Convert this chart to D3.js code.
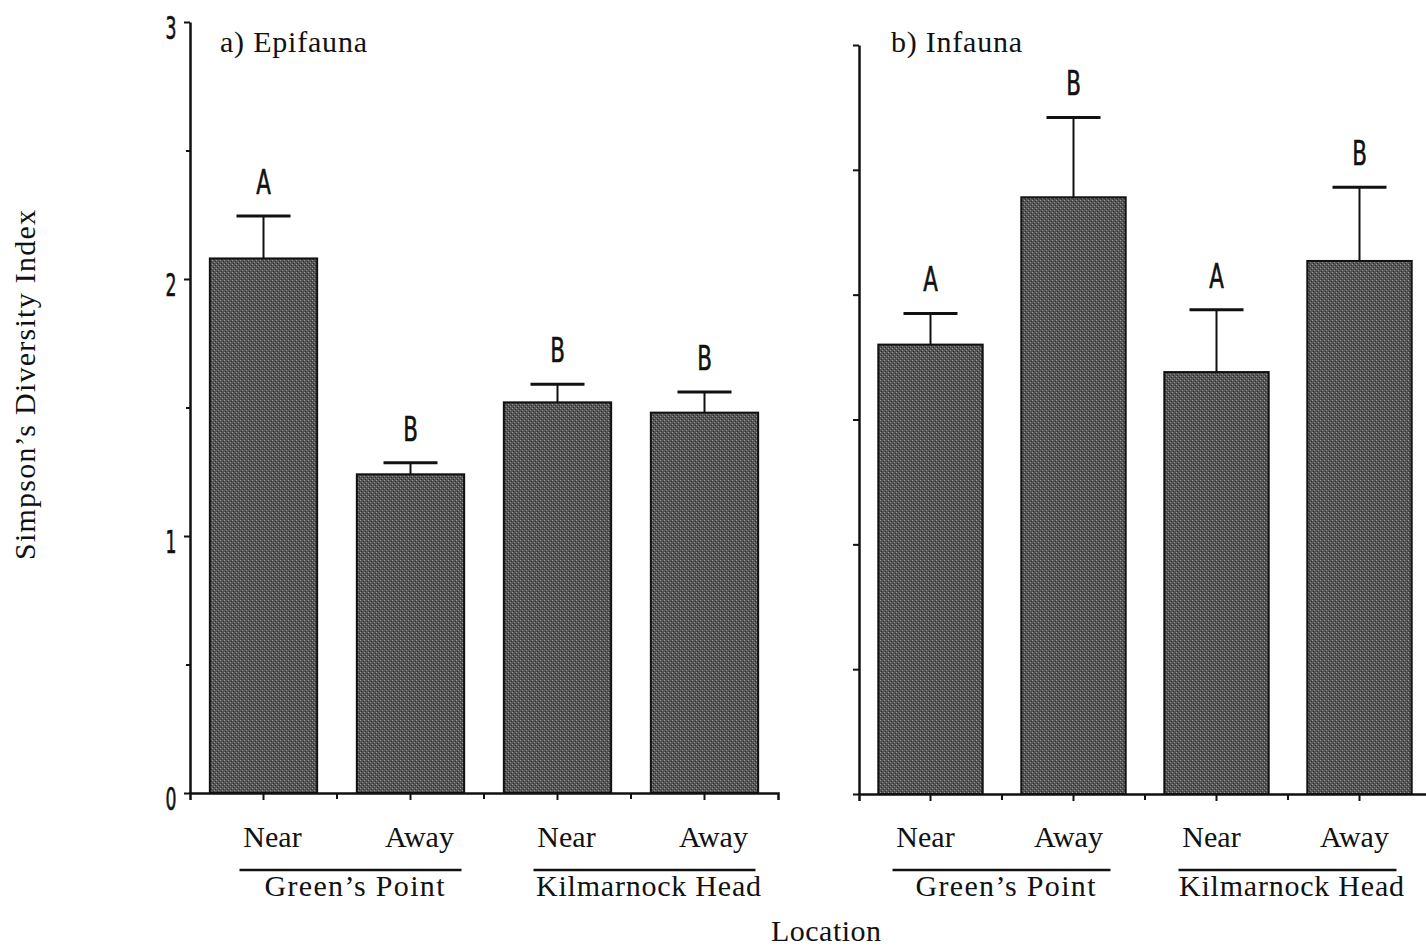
<!DOCTYPE html>
<html>
<head>
<meta charset="utf-8">
<script src="https://cdn.jsdelivr.net/npm/d3@7"></script>
<style>
  html, body { margin: 0; padding: 0; background: #fff; }
  svg { display: block; }
</style>
</head>
<body>
<svg id="chart" width="1426" height="948"></svg>
<script>
// ---------------- data ----------------
const categories = ["Near", "Away", "Near", "Away"];
const groups = ["Green\u2019s Point", "Kilmarnock Head"];
const epifaunaMean = [2.08, 1.24, 1.52, 1.48];
const epifaunaSE   = [0.165, 0.045, 0.07, 0.08];
const epifaunaLetters = ["A", "B", "B", "B"];
const infaunaMean = [1.80, 2.39, 1.69, 2.135];
const infaunaSE   = [0.125, 0.32, 0.25, 0.295];
const infaunaLetters = ["A", "B", "A", "B"];
const yTickLabels = ["0", "1", "2", "3"];
const yTickValues = [0, 0.5, 1, 1.5, 2, 2.5, 3];

// ---------------- setup ----------------
const svg = d3.select("#chart");
const defs = svg.append("defs");
const pat = defs.append("pattern")
  .attr("id", "dither").attr("patternUnits", "userSpaceOnUse")
  .attr("width", 4).attr("height", 4);
pat.append("rect").attr("width", 4).attr("height", 4).attr("fill", "#555");
pat.append("rect").attr("x", 0).attr("y", 0).attr("width", 1).attr("height", 1).attr("fill", "#9a9a9a");
pat.append("rect").attr("x", 2).attr("y", 2).attr("width", 1).attr("height", 1).attr("fill", "#8c8c8c");
pat.append("rect").attr("x", 1).attr("y", 3).attr("width", 1).attr("height", 1).attr("fill", "#2e2e2e");
pat.append("rect").attr("x", 3).attr("y", 1).attr("width", 1).attr("height", 1).attr("fill", "#333");

const serif = "'Liberation Serif', 'Times New Roman', serif";
const narrow = "'Liberation Sans Narrow', 'DejaVu Sans Condensed', sans-serif";
const FS = 30;

function narrowText(g, x, y, txt, size, sx) {
  g.append("g").attr("transform", `translate(${x},${y}) scale(${sx},1)`)
    .append("text")
    .attr("text-anchor", "middle")
    .attr("font-family", narrow)
    .attr("font-size", size)
    .attr("stroke", "#111").attr("stroke-width", 0.6)
    .attr("fill", "#111")
    .text(txt);
}

const panels = [
  { mean: epifaunaMean, se: epifaunaSE, letters: epifaunaLetters,
    xRange: [190, 778], yRange: [793, 22], title: "a) Epifauna", titleX: 220, titleLen: 147,
    labelOff: 9, showLabels: true },
  { mean: infaunaMean, se: infaunaSE, letters: infaunaLetters,
    xRange: [859, 1431], yRange: [794, 45], title: "b) Infauna", titleX: 891, titleLen: 131,
    labelOff: -5, showLabels: false }
];

panels.forEach((p, pi) => {
  const g = svg.append("g");
  const idx = d3.range(categories.length);
  const x = d3.scaleBand().domain(idx).range(p.xRange).padding(0);
  const y = d3.scaleLinear().domain([0, 3]).range(p.yRange);
  const bw = x.bandwidth() * 0.73;
  const cx = i => x(i) + x.bandwidth() / 2;

  // bars
  g.selectAll("rect.bar").data(idx).join("rect")
    .attr("class", "bar")
    .attr("x", i => cx(i) - bw / 2)
    .attr("width", bw)
    .attr("y", i => y(p.mean[i]))
    .attr("height", i => y(0) - y(p.mean[i]))
    .attr("fill", "url(#dither)")
    .attr("stroke", "#111").attr("stroke-width", 2);

  // error bars
  g.selectAll("line.err").data(idx).join("line")
    .attr("x1", cx).attr("x2", cx)
    .attr("y1", i => y(p.mean[i]))
    .attr("y2", i => y(p.mean[i] + p.se[i]))
    .attr("stroke", "#111").attr("stroke-width", 2);
  g.selectAll("line.cap").data(idx).join("line")
    .attr("x1", i => cx(i) - 27).attr("x2", i => cx(i) + 27)
    .attr("y1", i => y(p.mean[i] + p.se[i]))
    .attr("y2", i => y(p.mean[i] + p.se[i]))
    .attr("stroke", "#111").attr("stroke-width", 3);

  // significance letters
  idx.forEach(i => {
    narrowText(g, cx(i), y(p.mean[i] + p.se[i]) - 22, p.letters[i], 34, 0.7);
  });

  // y axis
  const yAxis = d3.axisLeft(y).tickValues(yTickValues)
    .tickSize(6).tickSizeOuter(0).tickFormat("");
  const ya = g.append("g").attr("transform", `translate(${p.xRange[0]},0)`).call(yAxis);
  ya.select(".domain").attr("stroke", "#111").attr("stroke-width", 2.5);
  ya.selectAll(".tick line").attr("stroke", "#111").attr("stroke-width", 2)
    .attr("x2", d => (pi === 0 && d % 1 !== 0) ? -4 : -6);
  if (p.showLabels) {
    yTickLabels.forEach(t => {
      narrowText(g, 171, y(+t) + 17, t, 32, 0.6);
    });
  }

  // x axis
  const xAxis = d3.axisBottom(x).tickSize(7).tickSizeOuter(7).tickFormat("");
  const xa = g.append("g").attr("transform", `translate(0,${y(0)})`).call(xAxis);
  xa.select(".domain").attr("stroke", "#111").attr("stroke-width", 2.5);
  xa.selectAll(".tick line").attr("stroke", "#111").attr("stroke-width", 2);
  g.selectAll("line.bt").data(idx.slice(1)).join("line")
    .attr("x1", i => x(i)).attr("x2", i => x(i))
    .attr("y1", y(0)).attr("y2", y(0) + 6)
    .attr("stroke", "#111").attr("stroke-width", 2);

  // category labels
  g.selectAll("text.cat").data(idx).join("text")
    .attr("x", i => cx(i) + p.labelOff)
    .attr("y", 847)
    .attr("text-anchor", "middle")
    .attr("font-family", serif).attr("font-size", FS).attr("fill", "#111")
    .text(i => categories[i]);

  // group underlines + labels
  groups.forEach((gr, gi) => {
    const a = gi * 2, b = gi * 2 + 1;
    const x1 = cx(a) + p.labelOff - 33, x2 = cx(b) + p.labelOff + 42;
    g.append("line").attr("x1", x1).attr("x2", x2).attr("y1", 870).attr("y2", 870)
      .attr("stroke", "#111").attr("stroke-width", 2.5);
    g.append("text")
      .attr("x", (x1 + x2) / 2 + 4).attr("y", 896)
      .attr("text-anchor", "middle")
      .attr("font-family", serif).attr("font-size", FS).attr("fill", "#111")
      .attr("textLength", gi === 0 ? 180 : 225).attr("lengthAdjust", "spacing")
      .text(gr);
  });

  // panel title
  g.append("text").attr("x", p.titleX).attr("y", 52)
    .attr("font-family", serif).attr("font-size", FS).attr("fill", "#111")
    .attr("textLength", p.titleLen).attr("lengthAdjust", "spacing")
    .text(p.title);
});

// axis titles
svg.append("text")
  .attr("transform", "translate(35,385) rotate(-90)")
  .attr("text-anchor", "middle")
  .attr("font-family", serif).attr("font-size", FS).attr("fill", "#111")
  .attr("textLength", 350).attr("lengthAdjust", "spacing")
  .text("Simpson\u2019s Diversity Index");

svg.append("text")
  .attr("x", 826).attr("y", 941)
  .attr("text-anchor", "middle")
  .attr("font-family", serif).attr("font-size", FS).attr("fill", "#111")
  .attr("textLength", 110).attr("lengthAdjust", "spacing")
  .text("Location");
</script>
</body>
</html>
